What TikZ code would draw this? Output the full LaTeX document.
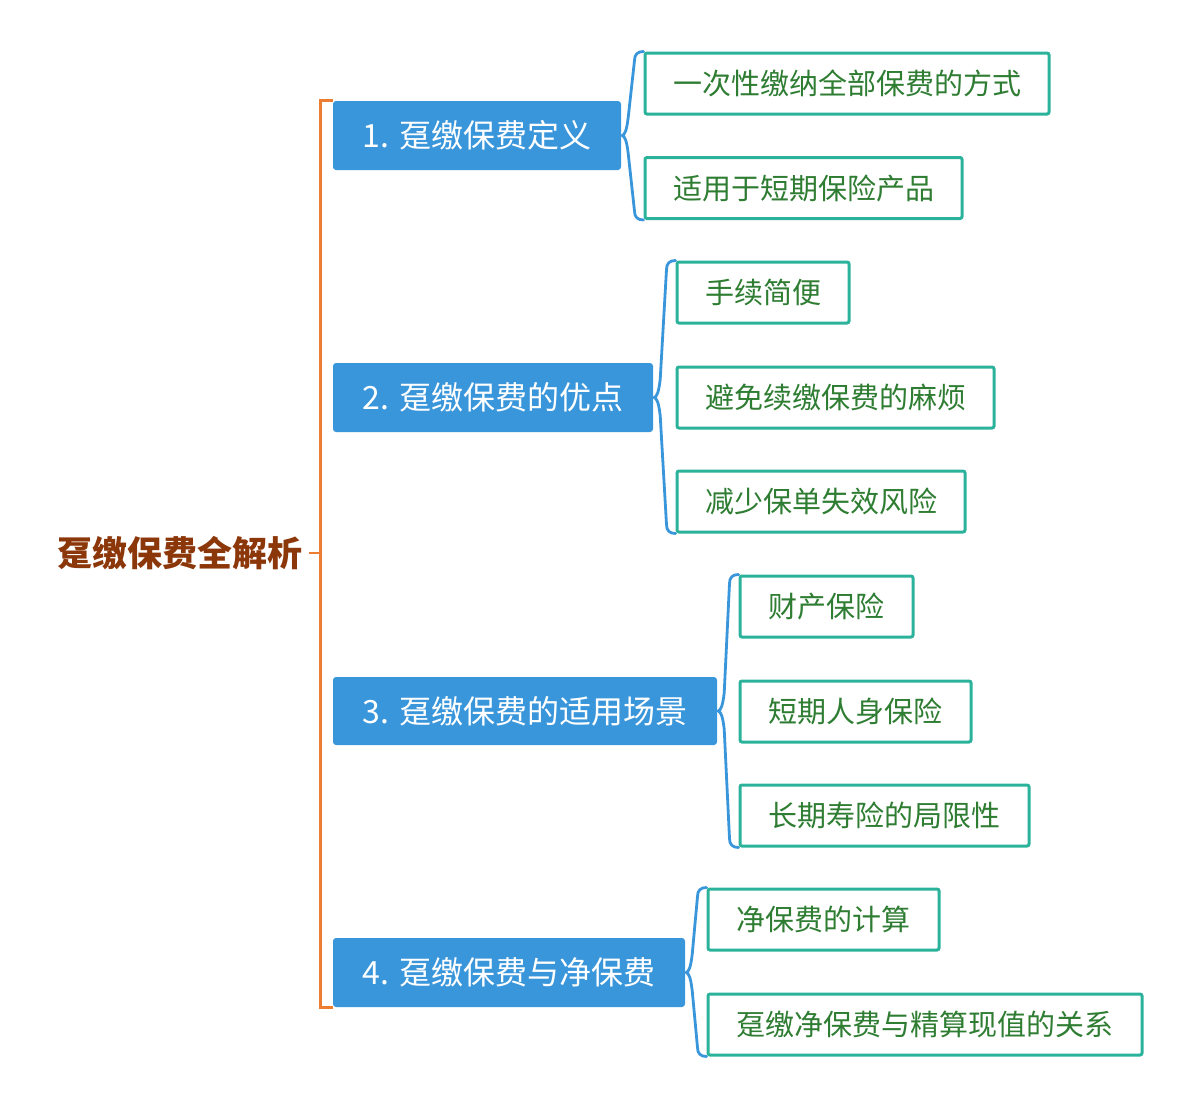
\documentclass[tikz,border=0pt]{standalone}
\usepackage{fontspec}
\newfontfamily\cjk{Noto Sans CJK SC}
\usetikzlibrary{calc}
\definecolor{boxblue}{HTML}{3A96DB}
\definecolor{bordteal}{HTML}{2AB29A}
\definecolor{txtgreen}{HTML}{2E7D32}
\definecolor{rootbrown}{HTML}{8C370A}
\definecolor{brorange}{HTML}{ED7D31}
\tikzset{
  lvlone/.style={fill=boxblue, rounded corners=3pt, text=white, font=\cjk\fontsize{32}{38}\selectfont, inner sep=0pt},
  lvltwo/.style={draw=bordteal, line width=3pt, fill=white, rounded corners=2pt, text=txtgreen, font=\cjk\fontsize{29}{35}\selectfont, inner sep=0pt, minimum height=61pt},
  rootnode/.style={text=rootbrown, font=\cjk\bfseries\fontsize{35}{42}\selectfont, inner sep=6pt},
  bracketline/.style={draw=brorange, line width=2.8pt},
  bracestyle/.style={draw=boxblue, line width=2.8pt, line join=round, line cap=round}
}
\newcommand{\mybrace}[3]{%
  \draw[bracestyle] let \p1=(#1.east), \p2=(#2.north west), \p3=(#3.south west) in
    (\x2,\y2) .. controls ({\x2-6pt},\y2) and ({\x2-9pt},{\y2-3pt}) .. ({\x2-9pt},{\y2-9pt})
    -- ({\x1+7pt},{\y1+18pt}) .. controls ({\x1+5.5pt},{\y1+6pt}) and ({\x1+4pt},{\y1+1pt}) .. ({\x1+1pt},\y1)
    .. controls ({\x1+4pt},{\y1-1pt}) and ({\x1+5.5pt},{\y1-6pt}) .. ({\x1+7pt},{\y1-18pt})
    -- ({\x3-9pt},{\y3+9pt}) .. controls ({\x3-9pt},{\y3+3pt}) and ({\x3-6pt},\y3) .. (\x3,\y3);}
\begin{document}
\begin{tikzpicture}[x=1pt,y=-1pt]
\useasboundingbox (0,0) rectangle (1200,1109);
\node[rootnode, anchor=east] (root) at (309,553) {趸缴保费全解析};
% level one
\node[lvlone, minimum width=288pt, minimum height=69pt] (p1) at (477,135.5) {1. 趸缴保费定义};
\node[lvlone, minimum width=320pt, minimum height=69pt] (p2) at (493,397.5) {2. 趸缴保费的优点};
\node[lvlone, minimum width=384pt, minimum height=68pt] (p3) at (525,711) {3. 趸缴保费的适用场景};
\node[lvlone, minimum width=352pt, minimum height=69pt] (p4) at (509,972.5) {4. 趸缴保费与净保费};
% level two
\node[lvltwo, minimum width=404pt] (c11) at (847,83.5) {一次性缴纳全部保费的方式};
\node[lvltwo, minimum width=317pt] (c12) at (803.5,188) {适用于短期保险产品};
\node[lvltwo, minimum width=172pt] (c21) at (763,292.5) {手续简便};
\node[lvltwo, minimum width=317pt] (c22) at (835.5,397.5) {避免续缴保费的麻烦};
\node[lvltwo, minimum width=288pt] (c23) at (821,501.5) {减少保单失效风险};
\node[lvltwo, minimum width=173pt] (c31) at (826.5,606.5) {财产保险};
\node[lvltwo, minimum width=231pt] (c32) at (855.5,711.5) {短期人身保险};
\node[lvltwo, minimum width=289pt] (c33) at (884.5,815.5) {长期寿险的局限性};
\node[lvltwo, minimum width=231pt] (c41) at (823.5,919.5) {净保费的计算};
\node[lvltwo, minimum width=434pt] (c42) at (925,1024.5) {趸缴净保费与精算现值的关系};
% orange bracket
\coordinate (bk) at (321,553);
\draw[bracketline] (p1.north west) -- ++(-12,0) |- (p4.south west);
\draw[bracketline] (root.east) -- (bk);
% braces
\mybrace{p1}{c11}{c12}
\mybrace{p2}{c21}{c23}
\mybrace{p3}{c31}{c33}
\mybrace{p4}{c41}{c42}
\end{tikzpicture}
\end{document}
